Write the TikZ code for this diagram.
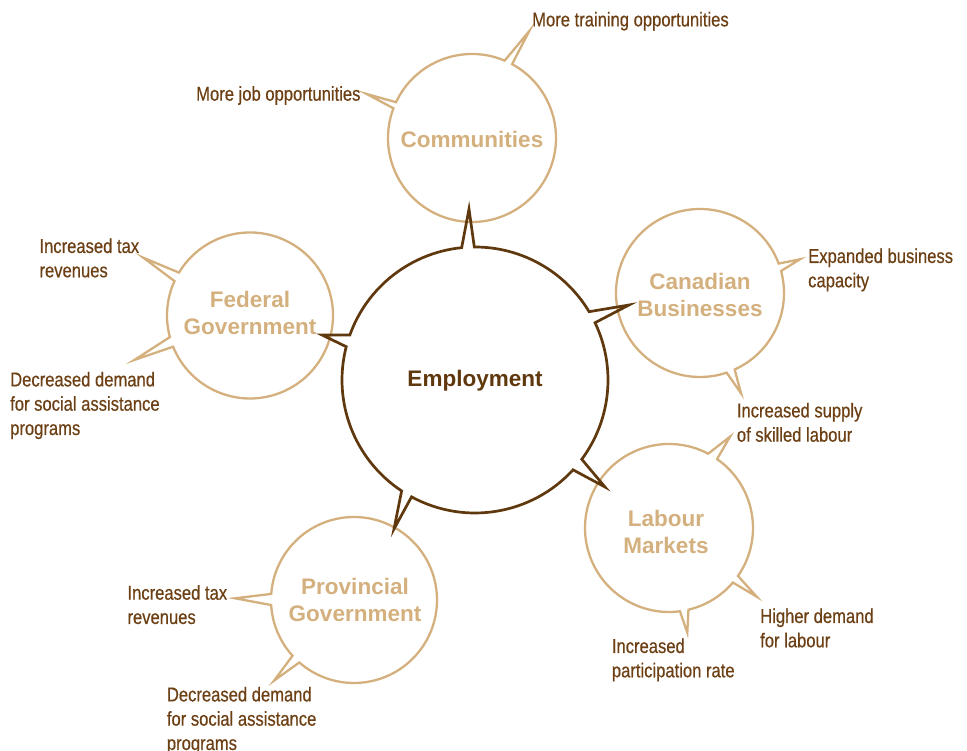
\documentclass[tikz,border=0pt]{standalone}
\usepackage{fontspec}
\setmainfont{Liberation Sans}
\newfontfamily\labfont[FakeStretch=0.83,FakeBold=0.5]{Liberation Sans}
\usetikzlibrary{calc}
\definecolor{tanc}{RGB}{212,176,126}
\definecolor{dbrown}{RGB}{96,56,14}
\definecolor{lbrown}{RGB}{108,64,20}
\begin{document}
\begin{tikzpicture}[x=1pt,y=1pt,
  lab/.style={anchor=north west, inner sep=0pt, align=left, text=lbrown, font=\labfont\fontsize{20}{24.3}\selectfont},
  cname/.style={inner sep=0pt, align=center, text=tanc, font=\fontsize{22.5}{27}\selectfont\bfseries},
  sat/.style={draw=tanc, line width=2.3pt, line join=miter},
  core/.style={draw=dbrown, line width=2.7pt, line join=miter}]
\useasboundingbox (0,0) rectangle (967,751);
% circle centres
\coordinate (E) at (475,371);
\coordinate (M) at (472,613);
\coordinate (F) at (250,435.5);
\coordinate (B) at (700,458);
\coordinate (L) at (669,223);
\coordinate (P) at (354,151);
% satellite bubbles
\draw[sat] ($(M)+(67.1:84)$) arc[start angle=67.1, end angle=154.8, radius=84] -- (366.7,657) -- ($(M)+(159.3:84)$) arc[start angle=159.3, end angle=421.5, radius=84] -- (529.3,720) -- cycle;
\draw[sat] ($(F)+(155.5:83)$) arc[start angle=155.5, end angle=195.1, radius=83] -- (134.3,391) -- ($(F)+(202.1:83)$) arc[start angle=202.1, end angle=508.9, radius=83] -- (143.3,493.3) -- cycle;
\draw[sat] ($(B)+(20.5:84)$) arc[start angle=20.5, end angle=288.5, radius=84] -- (741,357.7) -- ($(B)+(294.4:84)$) arc[start angle=294.4, end angle=375.2, radius=84] -- (800,491.7) -- cycle;
\draw[sat] ($(L)+(62.2:84)$) arc[start angle=62.2, end angle=277.5, radius=84] -- (687.3,118.3) -- ($(L)+(283.4:84)$) arc[start angle=283.4, end angle=319.5, radius=84] -- (756.7,154.3) -- ($(L)+(325.2:84)$) arc[start angle=325.2, end angle=415.1, radius=84] -- (730,314.3) -- cycle;
\draw[sat] ($(P)+(228.8:83)$) arc[start angle=228.8, end angle=535.8, radius=83] -- (235,152.7) -- ($(P)+(183.5:83)$) arc[start angle=183.5, end angle=222.2, radius=83] -- (274,70.3) -- cycle;
% central bubble
\draw[core] ($(E)+(-36.6:133)$) arc[start angle=-36.6, end angle=25.5, radius=133] -- (629,446) -- ($(E)+(30.9:133)$) arc[start angle=30.9, end angle=90.3, radius=133] -- (469,542) -- ($(E)+(95.75:133)$) arc[start angle=95.75, end angle=160.2, radius=133] -- (322,416) -- ($(E)+(165.5:133)$) arc[start angle=165.5, end angle=236.5, radius=133] -- (394,222) -- ($(E)+(241.5:133)$) arc[start angle=241.5, end angle=317.5, radius=133] -- (605,264) -- cycle;
% circle names
\node[cname, text=dbrown, anchor=base] (emp) at (475,364.3) {Employment};
\node[cname] (com) at (472,612) {Communities};
\node[cname] (fed) at (250,438) {Federal\\Government};
\node[cname] (can) at (700,456.5) {Canadian\\Businesses};
\node[cname] (lab) at (666,219.5) {Labour\\Markets};
\node[cname] (pro) at (355,151.5) {Provincial\\Government};
% labels
\node[lab] (l1) at (532,739.3) {More training opportunities};
\node[lab] (l2) at (196,665) {More job opportunities};
\node[lab] (l3) at (39.3,512.7) {Increased tax\\revenues};
\node[lab] (l4) at (10,379.3) {Decreased demand\\for social assistance\\programs};
\node[lab] (l5) at (808,502.7) {Expanded business\\capacity};
\node[lab] (l6) at (736.7,348.3) {Increased supply\\of skilled labour};
\node[lab] (l7) at (760,142.7) {Higher demand\\for labour};
\node[lab] (l8) at (611.7,112.7) {Increased\\participation rate};
\node[lab] (l9) at (127.3,166) {Increased tax\\revenues};
\node[lab] (l10) at (166.7,64.3) {Decreased demand\\for social assistance\\programs};
\end{tikzpicture}
\end{document}
